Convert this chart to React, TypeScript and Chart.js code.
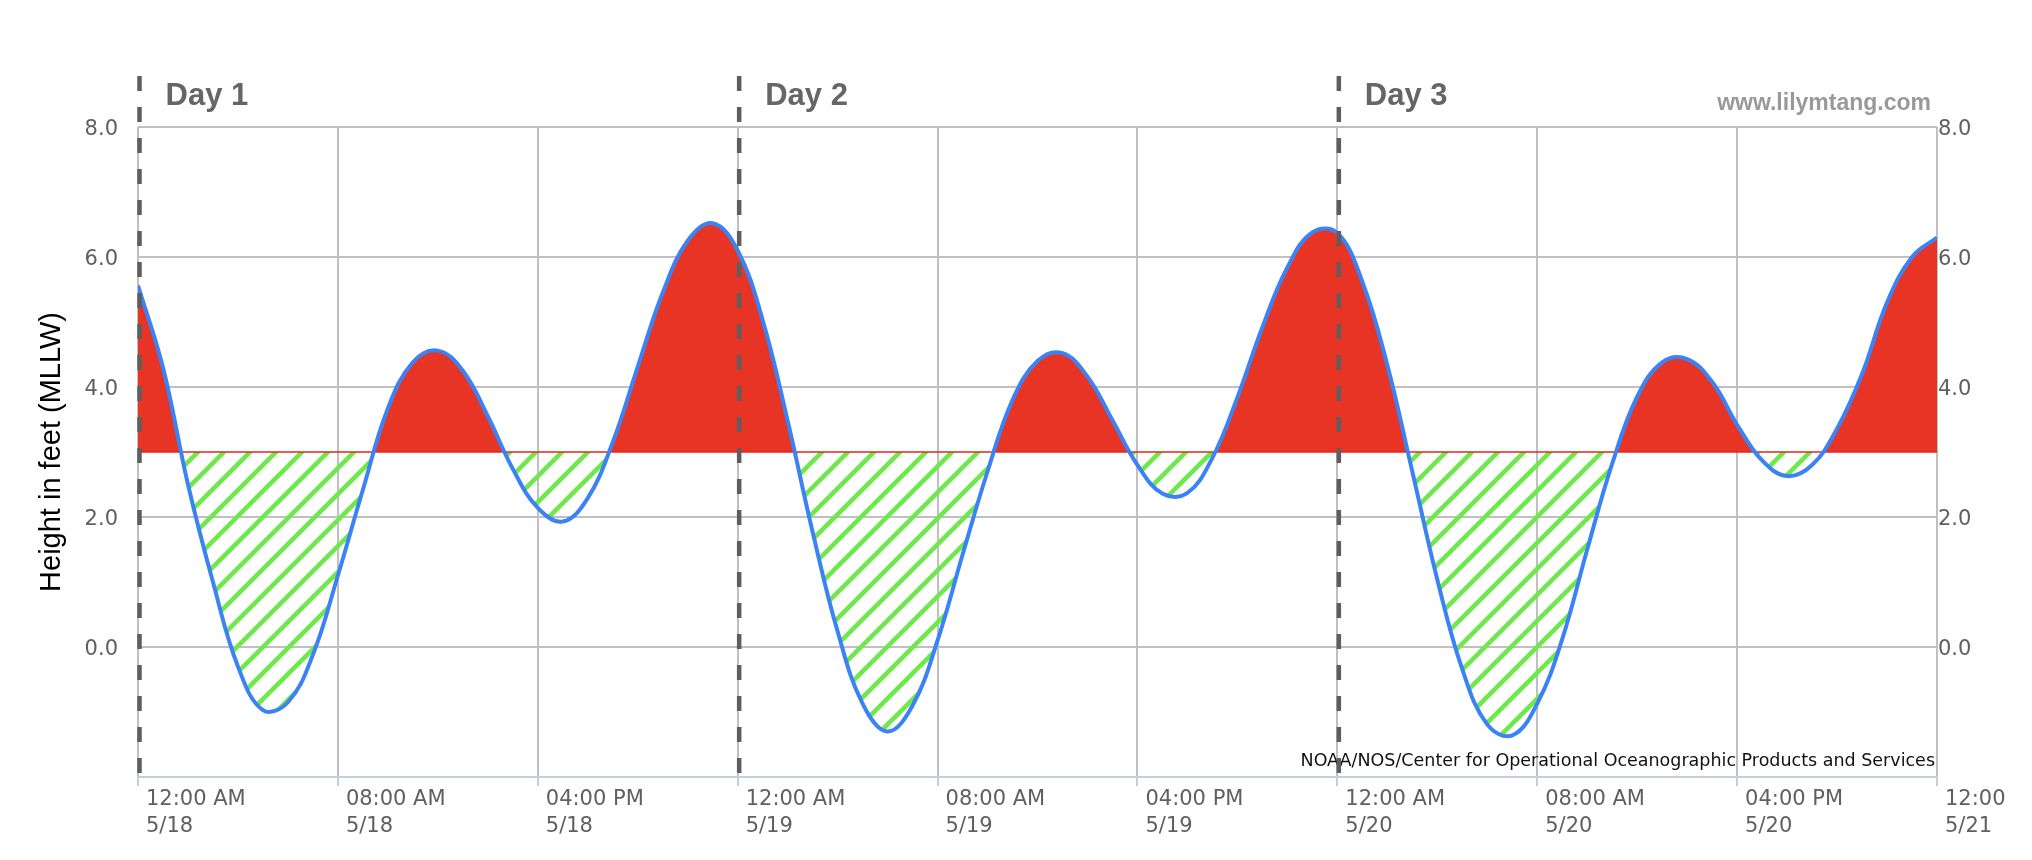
import React, { useRef, useEffect } from 'react';
import { Chart, registerables } from 'chart.js';

Chart.register(...registerables);

// Hourly tide readings from 12:00 AM 5/18 (hour 0) to 12:00 AM 5/21 (hour 72), feet above MLLW
const tideHours = [
  0, 1, 2, 3, 4, 5, 6, 7, 8, 9, 10, 11, 12, 13, 14, 15, 16, 17, 18, 19, 20, 21, 22, 23,
  24, 25, 26, 27, 28, 29, 30, 31, 32, 33, 34, 35, 36, 37, 38, 39, 40, 41, 42, 43, 44, 45, 46, 47,
  48, 49, 50, 51, 52, 53, 54, 55, 56, 57, 58, 59, 60, 61, 62, 63, 64, 65, 66, 67, 68, 69, 70, 71, 72,
];
const tideHeights = [
  5.56, 4.3, 2.5, 1.0, -0.3, -0.97, -0.85, -0.12, 1.1, 2.42, 3.67, 4.38, 4.56, 4.25, 3.55, 2.74, 2.14, 1.93, 2.29, 3.15, 4.31, 5.45, 6.25, 6.52,
  6.1, 5.03, 3.48, 1.77, 0.24, -0.87, -1.3, -0.9, 0.1, 1.42, 2.7, 3.8, 4.4, 4.52, 4.16, 3.49, 2.8, 2.36, 2.37, 2.91, 3.84, 4.92, 5.84, 6.38,
  6.37, 5.62, 4.34, 2.7, 1.04, -0.34, -1.19, -1.36, -0.87, 0.12, 1.5, 2.82, 3.85, 4.38, 4.43, 4.08, 3.42, 2.87, 2.63, 2.8, 3.36, 4.2, 5.3, 6.0, 6.3,
];

// level that splits the red (above) and hatched (below) areas
const thresholdHours = [0, 72];
const thresholdHeights = [3.0, 3.0];

const xTickHours = [0, 8, 16, 24, 32, 40, 48, 56, 64, 72];
const xTickLabels = [
  ['12:00 AM', '5/18'],
  ['08:00 AM', '5/18'],
  ['04:00 PM', '5/18'],
  ['12:00 AM', '5/19'],
  ['08:00 AM', '5/19'],
  ['04:00 PM', '5/19'],
  ['12:00 AM', '5/20'],
  ['08:00 AM', '5/20'],
  ['04:00 PM', '5/20'],
  ['12:00', '5/21'],
];
const yTickValues = [0, 2, 4, 6, 8];

const dayStarts = [0, 24, 48];
const dayLabels = ['Day 1', 'Day 2', 'Day 3'];

const watermark = 'www.lilymtang.com';
const sourceCredit = 'NOAA/NOS/Center for Operational Oceanographic Products and Services';
const yTitle = 'Height in feet (MLLW)';

const TICK_FONT = { family: "'DejaVu Sans', sans-serif", size: 21, lineHeight: 1.29 };
const TICK_COLOR = '#606060';
const GRID_COLOR = '#c0c0c0';

const overlayPlugin = {
  id: 'tideOverlay',
  afterDatasetsDraw(chart: any) {
    const { ctx, chartArea, scales } = chart;
    const xs = scales.x;
    ctx.save();

    // source credit (sits under the day dividers)
    ctx.font = "17.5px 'DejaVu Sans', sans-serif";
    ctx.fillStyle = '#111';
    ctx.textAlign = 'right';
    ctx.textBaseline = 'alphabetic';
    ctx.fillText(sourceCredit, chartArea.right - 2, chartArea.bottom - 11);

    // day dividers + labels
    dayStarts.forEach((h, i) => {
      const px = xs.getPixelForValue(h) + 1.5;
      ctx.setLineDash([15, 16]);
      ctx.lineWidth = 4.5;
      ctx.strokeStyle = '#5e5e5e';
      ctx.beginPath();
      ctx.moveTo(px, 76);
      ctx.lineTo(px, chartArea.bottom);
      ctx.stroke();
      ctx.setLineDash([]);

      ctx.font = "bold 31px 'Liberation Sans', Arial, sans-serif";
      ctx.fillStyle = '#666';
      ctx.textAlign = 'left';
      ctx.fillText(dayLabels[i], px + 26, 105);
    });

    // watermark
    ctx.font = "bold 23px 'Liberation Sans', Arial, sans-serif";
    ctx.fillStyle = '#999';
    ctx.textAlign = 'right';
    ctx.fillText(watermark, chartArea.right - 6, 110);

    ctx.restore();
  },
};

function makeHatch(ctx: CanvasRenderingContext2D) {
  const size = 26;
  const c = document.createElement('canvas');
  c.width = size;
  c.height = size;
  const g = c.getContext('2d')!;
  g.strokeStyle = '#6fe84b';
  g.lineWidth = 4.5;
  g.beginPath();
  g.moveTo(-3, size + 3);
  g.lineTo(size + 3, -3);
  g.moveTo(-3, 3);
  g.lineTo(3, -3);
  g.moveTo(size - 3, size + 3);
  g.lineTo(size + 3, size - 3);
  g.stroke();
  return ctx.createPattern(c, 'repeat');
}

const TideChart: React.FC = () => {
  const canvasRef = useRef<HTMLCanvasElement>(null);
  const chartRef = useRef<Chart | null>(null);

  useEffect(() => {
    if (!canvasRef.current) return;
    if (chartRef.current) chartRef.current.destroy();

    const ctx = canvasRef.current.getContext('2d');
    if (!ctx) return;
    const hatch = makeHatch(ctx);

    chartRef.current = new Chart(ctx, {
      type: 'line',
      data: {
        datasets: [
          {
            label: 'Tide',
            data: tideHours.map((h, i) => ({ x: h, y: tideHeights[i] })),
            borderColor: '#3b83f4',
            borderWidth: 4,
            pointRadius: 0,
            tension: 0.4,
            fill: { target: { value: thresholdHeights[0] }, above: '#e83424', below: hatch },
            order: 0,
          } as any,
          {
            label: 'Threshold',
            data: thresholdHours.map((h, i) => ({ x: h, y: thresholdHeights[i] })),
            borderColor: '#e0281e',
            borderWidth: 1.5,
            pointRadius: 0,
            fill: false,
            order: 1,
          },
        ],
      },
      options: {
        responsive: false,
        maintainAspectRatio: false,
        animation: false,
        layout: { padding: { top: 127, left: 0, right: 0, bottom: 0 } },
        plugins: {
          legend: { display: false },
          tooltip: { enabled: false },
          filler: { drawTime: 'beforeDatasetsDraw' } as any,
        },
        scales: {
          x: {
            type: 'linear',
            min: 0,
            max: 72,
            afterBuildTicks: (s: any) => {
              s.ticks = xTickHours.map((v) => ({ value: v }));
            },
            afterFit: (s: any) => {
              s.height = 83;
            },
            ticks: {
              autoSkip: false,
              maxRotation: 0,
              align: 'start',
              labelOffset: 8,
              padding: 0,
              color: TICK_COLOR,
              font: TICK_FONT,
              callback: (v: any) => xTickLabels[xTickHours.indexOf(Number(v))] ?? '',
            },
            grid: { color: GRID_COLOR, lineWidth: 2, tickColor: '#c0d0e0', tickLength: 9, tickWidth: 2 },
            border: { color: '#c0d0e0', width: 2 },
          } as any,
          y: {
            position: 'left',
            min: -2,
            max: 8,
            afterBuildTicks: (s: any) => {
              s.ticks = yTickValues.map((v) => ({ value: v }));
            },
            afterFit: (s: any) => {
              s.width = 138;
            },
            ticks: {
              padding: 20,
              labelOffset: 3,
              color: TICK_COLOR,
              font: TICK_FONT,
              callback: (v: any) => Number(v).toFixed(1),
            },
            grid: { color: GRID_COLOR, lineWidth: 2, drawTicks: false },
            border: { display: false },
            title: {
              display: true,
              text: yTitle,
              color: '#000',
              font: { family: "'Liberation Sans', Arial, sans-serif", size: 29, lineHeight: 1 },
              padding: { top: 37, bottom: 0 },
            },
          } as any,
          y2: {
            position: 'right',
            min: -2,
            max: 8,
            afterBuildTicks: (s: any) => {
              s.ticks = yTickValues.map((v) => ({ value: v }));
            },
            afterFit: (s: any) => {
              s.width = 95;
            },
            ticks: {
              padding: 1,
              labelOffset: 3,
              color: TICK_COLOR,
              font: TICK_FONT,
              callback: (v: any) => Number(v).toFixed(1),
            },
            grid: { display: false, drawTicks: false },
            border: { display: false },
          } as any,
        },
      },
      plugins: [overlayPlugin],
    });

    return () => {
      if (chartRef.current) {
        chartRef.current.destroy();
        chartRef.current = null;
      }
    };
  }, []);

  return <canvas ref={canvasRef} width={2032} height={860} style={{ display: 'block', width: 2032, height: 860 }} />;
};

export default function App() {
  return (
    <div style={{ position: 'fixed', left: 0, top: 0, width: 2032, height: 860, background: '#fff' }}>
      <TideChart />
    </div>
  );
}
